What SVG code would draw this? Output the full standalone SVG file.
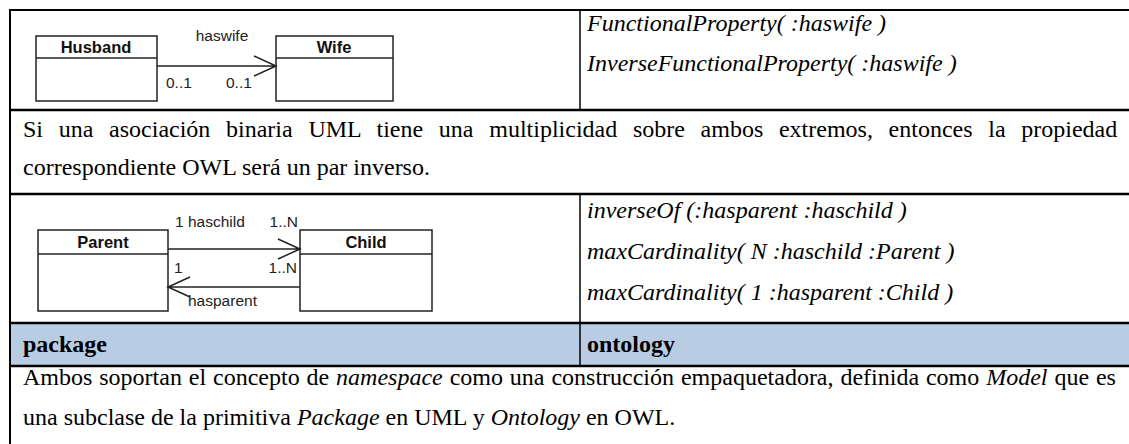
<svg xmlns="http://www.w3.org/2000/svg" width="1129" height="444" viewBox="0 0 1129 444">
<style>
.t{font-family:"Liberation Serif","Times New Roman",serif;font-size:24px;fill:#000}
.i{font-style:italic}
.b{font-weight:bold}
.u{font-family:"Liberation Sans",Arial,sans-serif;font-size:15.5px;fill:#222}
.ub{font-family:"Liberation Sans",Arial,sans-serif;font-size:16.5px;font-weight:bold;fill:#111}
.box{fill:#fff;stroke:#222;stroke-width:1.5}
.ln{stroke:#000;fill:none}
.c{stroke:#222;stroke-width:1.5;fill:none}
</style>
<rect width="1129" height="444" fill="#fff"/>
<rect x="10" y="323" width="1119" height="43" fill="#B8CCE4"/>
<g id="table">
<line class="ln" x1="10" y1="10" x2="1129" y2="10" stroke-width="2"/>
<line class="ln" x1="10" y1="9" x2="10" y2="444" stroke-width="2"/>
<line class="ln" x1="580" y1="10" x2="580" y2="110" stroke-width="1.5"/>
<line class="ln" x1="580" y1="194" x2="580" y2="366" stroke-width="1.5"/>
<line class="ln" x1="10" y1="110" x2="1129" y2="110" stroke-width="2.5"/>
<line class="ln" x1="10" y1="194" x2="1129" y2="194" stroke-width="2.5"/>
<line class="ln" x1="10" y1="323" x2="1129" y2="323" stroke-width="2.5"/>
<line class="ln" x1="10" y1="366" x2="1129" y2="366" stroke-width="2.5"/>
</g>
<g id="row1-owl">
<text class="t i" x="587" y="31">FunctionalProperty( :haswife )</text>
<text class="t i" x="587" y="71">InverseFunctionalProperty( :haswife )</text>
</g>
<g id="row2-text">
<text class="t" x="23" y="137" word-spacing="9.7">Si una asociación binaria UML tiene una multiplicidad sobre ambos extremos, entonces la propiedad</text>
<text class="t" x="23" y="175">correspondiente OWL será un par inverso.</text>
</g>
<g id="row3-owl">
<text class="t i" x="587" y="218">inverseOf (:hasparent :haschild )</text>
<text class="t i" x="587" y="259">maxCardinality( N :haschild :Parent )</text>
<text class="t i" x="587" y="300">maxCardinality( 1 :hasparent :Child )</text>
</g>
<g id="row4-header">
<text class="t b" x="23" y="352">package</text>
<text class="t b" x="587" y="352">ontology</text>
</g>
<g id="row5-text">
<text class="t" x="23" y="385" word-spacing="0.9">Ambos soportan el concepto de <tspan class="i">namespace</tspan> como una construcción empaquetadora, definida como <tspan class="i">Model</tspan> que es</text>
<text class="t" x="23" y="425">una subclase de la primitiva <tspan class="i">Package</tspan> en UML y <tspan class="i">Ontology</tspan> en OWL.</text>
</g>
<g id="husband">
<rect class="box" x="36" y="36" width="121" height="65"/>
<line class="c" x1="36" y1="58" x2="157" y2="58"/>
<text class="ub" x="96" y="53" text-anchor="middle">Husband</text>
</g>
<g id="wife">
<rect class="box" x="276" y="36" width="117" height="65"/>
<line class="c" x1="276" y1="58" x2="393" y2="58"/>
<text class="ub" x="334" y="53" text-anchor="middle">Wife</text>
</g>
<g id="parent">
<rect class="box" x="38" y="230" width="130" height="81"/>
<line class="c" x1="38" y1="254" x2="168" y2="254"/>
<text class="ub" x="103" y="248" text-anchor="middle">Parent</text>
</g>
<g id="child">
<rect class="box" x="300" y="230" width="132" height="81"/>
<line class="c" x1="300" y1="254" x2="432" y2="254"/>
<text class="ub" x="366" y="248" text-anchor="middle">Child</text>
</g>
<g id="connectors">
<path class="c" d="M157 66 H276 M254 56 L276 66 L254 76"/>
<text class="u" x="222" y="41" text-anchor="middle" font-size="16.5">haswife</text>
<text class="u" x="166" y="88">0..1</text>
<text class="u" x="226" y="88">0..1</text>
<path class="c" d="M168 249 H300 M278 239 L300 249 L278 259"/>
<text class="u" x="175" y="227">1 haschild</text>
<text class="u" x="298" y="227" text-anchor="end">1..N</text>
<text class="u" x="174" y="273">1</text>
<text class="u" x="297" y="273" text-anchor="end">1..N</text>
<path class="c" d="M168 287 H300 M190 277 L168 287 L190 297"/>
<text class="u" x="188" y="306">hasparent</text>
</g>
</svg>
